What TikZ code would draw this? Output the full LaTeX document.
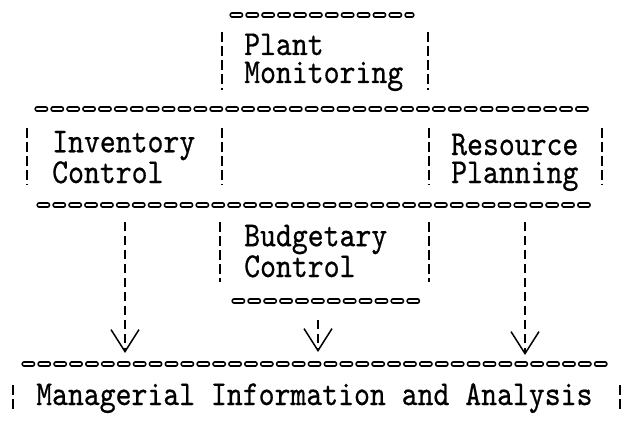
\documentclass[tikz,border=0pt]{standalone}
\usepackage{fontspec}
\setmonofont[FakeStretch=0.865,FakeBold=0.6]{lmmono10-regular.otf}
\usetikzlibrary{arrows.meta}

\begin{document}
\begin{tikzpicture}[x=1pt,y=-1pt,
  box/.style={font=\ttfamily\fontsize{35}{28}\selectfont,align=left,inner sep=0pt,anchor=base west},
  rule/.style={line width=1.5pt,double=white,double distance=2.2pt,line cap=round,dash pattern=on 8.7pt off 7.2pt},
  bar/.style={line width=1.4pt,dash pattern=on 10pt off 4pt},
  flow/.style={line width=1.4pt,dash pattern=on 9pt off 5pt,-{Straight Barb[length=22pt,width=28pt,line width=1.5pt]}}]
  \useasboundingbox (0,0) rectangle (624,425);

  % anchor is the base of the last line
  \node[box] (plant) at (244,83) {Plant\\Monitoring};
  \node[box] (inventory) at (52,183) {Inventory\\Control};
  \node[box] (resource) at (451,183) {Resource\\Planning};
  \node[box] (budget) at (244,277) {Budgetary\\Control};
  \node[box] (mis) at (36,405) {Managerial Information and Analysis};

  % typed rules
  \draw[rule] (232,15) -- (412,15);
  \draw[rule] (37,109) -- (589,109);
  \draw[rule] (39,205) -- (589,205);
  \draw[rule] (234,301) -- (420,301);
  \draw[rule] (24,364) -- (610,364);

  % side bars
  \draw[bar] (222,32) -- (222,90);   \draw[bar] (428,32) -- (428,90);
  \draw[bar] (27,128) -- (27,185);   \draw[bar] (222,128) -- (222,185);
  \draw[bar] (429,128) -- (429,185); \draw[bar] (602,128) -- (602,185);
  \draw[bar] (220,222) -- (220,282); \draw[bar] (429,222) -- (429,282);
  \draw[bar] (13,385) -- (13,411);   \draw[bar] (620,385) -- (620,411);

  \coordinate (invfoot) at (125,222);
  \coordinate (invtip) at (125,353);
  \coordinate (budfoot) at (318,320);
  \coordinate (budtip) at (318,352);
  \coordinate (resfoot) at (525,222);
  \coordinate (restip) at (525,355);
  \draw[flow] (invfoot) -- (invtip);
  \draw[flow] (budfoot) -- (budtip);
  \draw[flow] (resfoot) -- (restip);
\end{tikzpicture}
\end{document}
